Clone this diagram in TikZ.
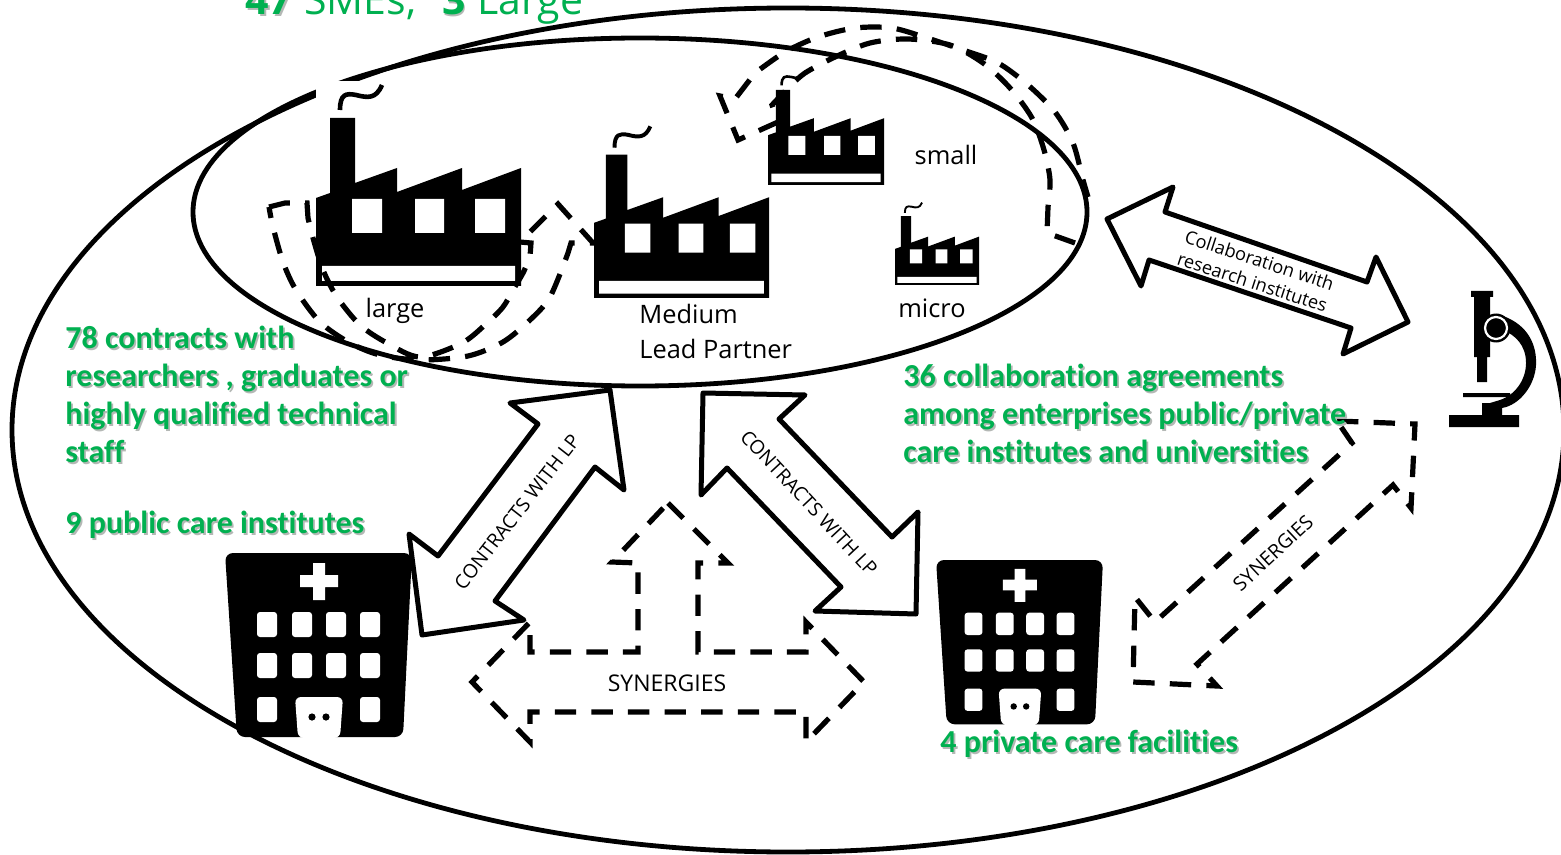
\documentclass[tikz,border=0pt]{standalone}
\usepackage{fontspec}
\setmainfont{Open Sans}
\newfontfamily\carlito[Ligatures=NoCommon]{Carlito}
\definecolor{ggreen}{HTML}{00B050}
\definecolor{gshadow}{HTML}{B4B8B5}
\newcommand{\gtxt}[1]{\rlap{\kern.9pt\raisebox{-.9pt}{\textcolor{gshadow}{#1}}}#1}
\tikzset{
  ringline/.style={line width=2.4pt},
  bigarrow/.style={draw,fill=white,line width=2.5pt,line join=round},
  dashline/.style={line width=2.6pt,dash pattern=on 10.7pt off 7.6pt},
  greentxt/.style={anchor=west,align=left,text=ggreen,font=\carlito\bfseries\fontsize{16}{19}\selectfont,inner sep=0pt},
  blacktxt/.style={align=left,font=\fontsize{12.7}{17.5}\selectfont,inner sep=0pt},
}
\newcommand{\factory}[3]{
  \begin{scope}[shift={(#1,#2)},scale=#3]
    \fill[white] (0,-205) rectangle (205,0);
    \fill (0,0) -- (0,-88) -- (14,-93) -- (14,-168) -- (39,-168) -- (39,-103) -- (81,-118) -- (81,-94) -- (146,-118) -- (146,-96) -- (205,-118) -- (205,0) -- cycle;
    \fill[white] (36,-87) rectangle (66,-53) (99,-87) rectangle (128,-53) (159,-87) rectangle (189,-53) (6,-20) rectangle (199,-5);
    \draw[line width=#3*2.3pt] (24,-176) .. controls (24,-192) and (30,-193) .. (40,-191) .. controls (52,-188) and (60,-187) .. (66,-201);
  \end{scope}
}
\newcommand{\hospital}[3]{
  \begin{scope}[shift={(#1,#2)},scale=#3]
    \fill[rounded corners=4pt] (0,0) -- (187,0) -- (178,184) -- (12,184) -- cycle;
    \fill[white] (88,10) rectangle (100,47) (75,22) rectangle (113,34);
    \foreach \wx in {32,67,101,135} \foreach \wy in {59,100}
      \fill[white,rounded corners=1.5pt] (\wx,\wy) rectangle +(20,25);
    \foreach \wx in {32,135} \fill[white,rounded corners=1.5pt] (\wx,144) rectangle +(20,25);
    \fill[white,rounded corners=3pt] (73,185) -- (70,144) -- (118,144) -- (115,185) -- cycle;
    \fill (87,164) circle (3.6) (101,164) circle (3.6);
  \end{scope}
}
\begin{document}
\begin{tikzpicture}[x=.5pt,y=-.5pt]
\clip (0,0) rectangle (1561,855);
\draw[ringline] (788,430) ellipse (776 and 422);
\draw[ringline] (640,212) ellipse (447 and 174);
\factory{316}{286}{1}
\factory{594}{298}{.854}
\factory{768}{185}{.566}
\factory{895}{285}{.41}
\hospital{225}{553}{1}
\hospital{936}{560}{.893}
% microscope
\fill (1449,415) rectangle (1519,427) (1482,403) rectangle (1502,415) (1463,393) rectangle (1510,397);
\fill (1471,291) rectangle (1493,297) (1474,297) rectangle (1490,357) (1477,357) rectangle (1487,382);
\fill (1503,316) .. controls (1528,325) and (1537,345) .. (1536,365) .. controls (1535,385) and (1520,405) .. (1502,408) -- (1490,408) -- (1490,403) -- (1500,400) .. controls (1515,395) and (1526,380) .. (1526,363) .. controls (1526,345) and (1515,335) .. (1503,330) -- cycle;
\fill (1496,328) circle (14.5);
\draw[white,fill=black,line width=1.1pt] (1496,328) circle (11);
\draw[bigarrow] (610,390) -- (624,490) -- (595,467) -- (495,601) -- (524,620) -- (422,635) -- (409,534) -- (438,556) -- (538,424) -- (510,403) -- cycle;
\draw[bigarrow] (703,393) -- (805,395) -- (779,419) -- (892,537) -- (918,512) -- (916,614) -- (815,611) -- (841,587) -- (727,468) -- (701,495) -- cycle;
\draw[bigarrow] (1107,219) -- (1173,187) -- (1165,212) -- (1367,282) -- (1376,257) -- (1408,322) -- (1343,354) -- (1351,328) -- (1149,260) -- (1141,286) -- cycle;
\draw[dashline] (269,207) -- (285,203) -- (307,203) -- plot[smooth] coordinates {(308,218) (313,238) (323,270) (337,297) (360,325) (387,343) (420,357) (462,343) (487,323) (503,307) (513,290) (523,273) (530,257)} -- (531,243) -- (520,242) -- (558,204) -- (593,243) -- (571,243) -- plot[smooth] coordinates {(568,253) (550,297) (530,320) (503,342) (468,356) (420,360) (380,355) (350,343) (320,322) (296,290) (283,262) (273,227) (269,207)};
\draw[dashline] (1075,243) -- (1047,233) -- plot[smooth] coordinates {(1048,207) (1050,180) (1044,150) (1032,118) (1010,88) (983,63) (950,45) (908,39) (870,43) (835,57) (805,73) (788,88)} -- (772,105) -- (778,122) -- (738,140) -- (720,96) -- (735,99) -- plot[smooth] coordinates {(755,73) (785,52) (818,37) (855,28) (892,28) (927,38) (963,50) (998,63) (1028,85) (1055,112) (1073,143) (1083,180) (1088,197)};
\draw[dashline] (668,503) -- (728,563) -- (698,563) -- (698,652) -- (806,652) -- (806,622) -- (864,682) -- (806,742) -- (806,712) -- (530,712) -- (530,742) -- (472,682) -- (530,622) -- (530,652) -- (638,652) -- (638,563) -- (612,562) -- cycle;
\draw[dashline] (1337,421) -- (1415,424) -- (1411,508) -- (1393,485) -- (1197,664) -- (1217,686) -- (1133,682) -- (1135,597) -- (1155,622) -- (1352,443) -- cycle;
\node[anchor=base west,text=ggreen,inner sep=0pt,font=\fontsize{20.5}{24}\selectfont] (title) at (245,15) {\gtxt{\textbf{47}}\hspace{6pt}SMEs,\hspace{13pt}\gtxt{\textbf{3}}\hspace{6pt}Large};
\node[blacktxt] (largelbl) at (395,311) {large};
\node[blacktxt] (smalllbl) at (946,155) {small};
\node[blacktxt] (microlbl) at (932,308) {micro};
\node[blacktxt,anchor=west] (mediumlbl) at (639,331) {Medium\\Lead Partner};
\node[rotate=52,font=\fontsize{9.7}{12}\selectfont,inner sep=0pt] (contractsl) at (517,512) {CONTRACTS WITH LP};
\node[rotate=-47,font=\fontsize{9.7}{12}\selectfont,inner sep=0pt] (contractsr) at (809,503) {CONTRACTS WITH LP};
\node[font=\fontsize{11.5}{14}\selectfont,inner sep=0pt] (synergiesm) at (667,683) {SYNERGIES};
\node[rotate=43,font=\fontsize{9.8}{12}\selectfont,inner sep=0pt] (synergiesr) at (1273,553) {SYNERGIES};
\node[rotate=-18,align=center,font=\fontsize{9.1}{11.5}\selectfont,inner sep=0pt] (collab) at (1256,271) {Collaboration with\\research institutes};
\node[greentxt] (contractstxt) at (65,395) {\gtxt{78 contracts with}\\\gtxt{researchers , graduates or}\\\gtxt{highly qualified technical}\\\gtxt{staff}};
\node[greentxt] (publictxt) at (65,526) {\gtxt{9 public care institutes}};
\node[greentxt] (agreetxt) at (903,414) {\gtxt{36 collaboration agreements}\\\gtxt{among enterprises public/private}\\\gtxt{care institutes and universities}};
\node[greentxt] (privatetxt) at (940,745) {\gtxt{4 private care facilities}};
\end{tikzpicture}
\end{document}
